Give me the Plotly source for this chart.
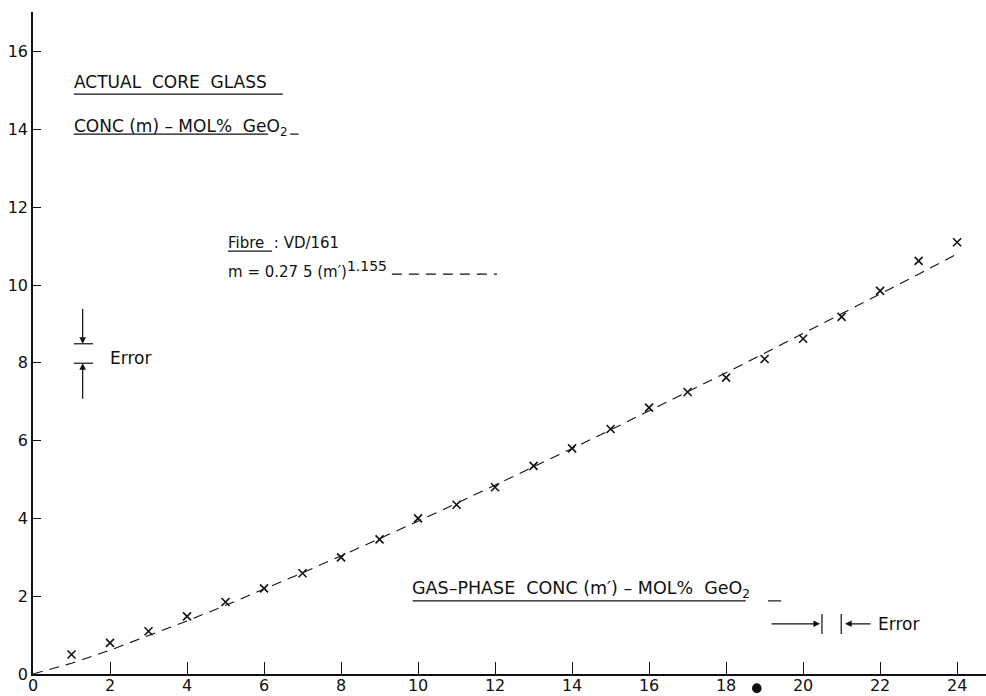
import plotly.graph_objects as go

# ---- data ----
gas_conc = list(range(1, 25))  # m' (mol% GeO2)
core_conc = [0.50, 0.80, 1.10, 1.48, 1.85, 2.20, 2.59, 3.00, 3.46, 4.00,
             4.35, 4.80, 5.35, 5.80, 6.30, 6.85, 7.25, 7.62, 8.10, 8.62,
             9.18, 9.85, 10.62, 11.10]
fit_x = list(range(0, 25))
fit_y = [0.0, 0.275, 0.612, 0.978, 1.364, 1.765, 2.178, 2.603, 3.036, 3.479,
         3.929, 4.387, 4.851, 5.321, 5.797, 6.276, 6.762, 7.254, 7.747, 8.247,
         8.751, 9.257, 9.767, 10.28, 10.80]
x_ticks = list(range(0, 25, 2))
y_ticks = list(range(0, 17, 2))

FONT = "DejaVu Sans"
BLACK = "#111111"

fig = go.Figure()
fig.add_trace(go.Scatter(x=fit_x, y=fit_y, mode="lines",
                         line=dict(color=BLACK, width=1.1, dash="10px,7px"),
                         hoverinfo="skip", showlegend=False))
fig.add_trace(go.Scatter(x=gas_conc, y=core_conc, mode="markers",
                         marker=dict(symbol="x-thin", size=8,
                                     line=dict(color=BLACK, width=1.6)),
                         showlegend=False))

shapes = []
annotations = []

def hline(x0, x1, y, w=1.2, dash="solid"):
    shapes.append(dict(type="line", xref="x", yref="y", x0=x0, x1=x1, y0=y, y1=y,
                       line=dict(color=BLACK, width=w, dash=dash)))

def vline(x, y0, y1, w=1.2):
    shapes.append(dict(type="line", xref="x", yref="y", x0=x, x1=x, y0=y0, y1=y1,
                       line=dict(color=BLACK, width=w)))

def text(x, y, s, size=16):
    annotations.append(dict(x=x, y=y, xref="x", yref="y", text=s, showarrow=False,
                            xanchor="left", yanchor="middle",
                            font=dict(family=FONT, size=size, color=BLACK)))

def arrow(x, y, ax, ay):
    annotations.append(dict(x=x, y=y, ax=ax, ay=ay, xref="x", yref="y",
                            axref="x", ayref="y", text="", showarrow=True,
                            arrowhead=2, arrowsize=1.1, arrowwidth=1.2,
                            arrowcolor=BLACK))

NB = "\u00a0"
# y-axis title block
text(1.0, 15.22, f"ACTUAL{NB}{NB}CORE{NB}{NB}GLASS", 17)
hline(1.06, 6.49, 14.91)
text(1.0, 14.04, f"CONC{NB}(m){NB}–{NB}MOL%{NB}{NB}GeO<sub>2</sub>", 17)
hline(1.06, 6.1, 13.88)
hline(6.68, 6.9, 13.88)

# fibre / fit label
text(5.0, 11.08, f"Fibre{NB}{NB}:{NB}VD/161", 15)
hline(5.06, 6.21, 10.87)
text(5.0, 10.40,
     f"m{NB}={NB}0.27{NB}5{NB}(m′)<sup><span style='font-size:14px'>1.155</span></sup>", 15)
hline(9.32, 12.05, 10.28, w=1.1, dash="10px,7px")

# vertical error marker
arrow(1.29, 8.49, 1.29, 9.43)
hline(1.06, 1.56, 8.49)
hline(1.06, 1.56, 7.99)
arrow(1.29, 7.99, 1.29, 7.04)
text(1.95, 8.12, "Error", 17)

# x-axis title block
text(9.8, 2.16, f"GAS–PHASE{NB}{NB}CONC{NB}(m′){NB}–{NB}MOL%{NB}{NB}GeO<sub>2</sub>", 17.5)
hline(9.86, 18.51, 1.88)
hline(19.09, 19.43, 1.88)

# horizontal error marker
arrow(20.44, 1.29, 19.14, 1.29)
vline(20.49, 1.03, 1.54)
vline(20.99, 1.03, 1.54)
arrow(21.09, 1.29, 21.79, 1.29)
text(21.9, 1.29, "Error", 17)

# ink blot below the axis
shapes.append(dict(type="circle", xref="paper", yref="paper",
                   x0=0.7545, x1=0.7645, y0=-0.029, y1=-0.014,
                   fillcolor=BLACK, line=dict(color=BLACK, width=0)))

fig.update_layout(
    width=986, height=696,
    margin=dict(l=33, r=0, t=12, b=22, autoexpand=False),
    paper_bgcolor="white", plot_bgcolor="white",
    font=dict(family=FONT, size=16, color=BLACK),
    shapes=shapes, annotations=annotations,
    showlegend=False,
)
fig.update_xaxes(range=[0, 24.75], tickvals=x_ticks, ticktext=[str(v) for v in x_ticks],
                 ticks="inside", ticklen=12, tickwidth=1.3, tickcolor=BLACK,
                 showline=True, linecolor=BLACK, linewidth=1.5, showgrid=False,
                 zeroline=False, automargin=False, ticklabelstandoff=-4,
                 tickfont=dict(family=FONT, size=16, color=BLACK))
fig.update_yaxes(range=[0, 17.02], tickvals=y_ticks, ticktext=[str(v) for v in y_ticks],
                 ticks="inside", ticklen=8, tickwidth=1.3, tickcolor=BLACK,
                 showline=True, linecolor=BLACK, linewidth=1.5, showgrid=False,
                 zeroline=False, automargin=False,
                 tickfont=dict(family=FONT, size=16, color=BLACK))

fig.write_html("out.html", config={"displayModeBar": False},
               post_script="document.body.style.margin='0';document.body.style.overflow='hidden';")
